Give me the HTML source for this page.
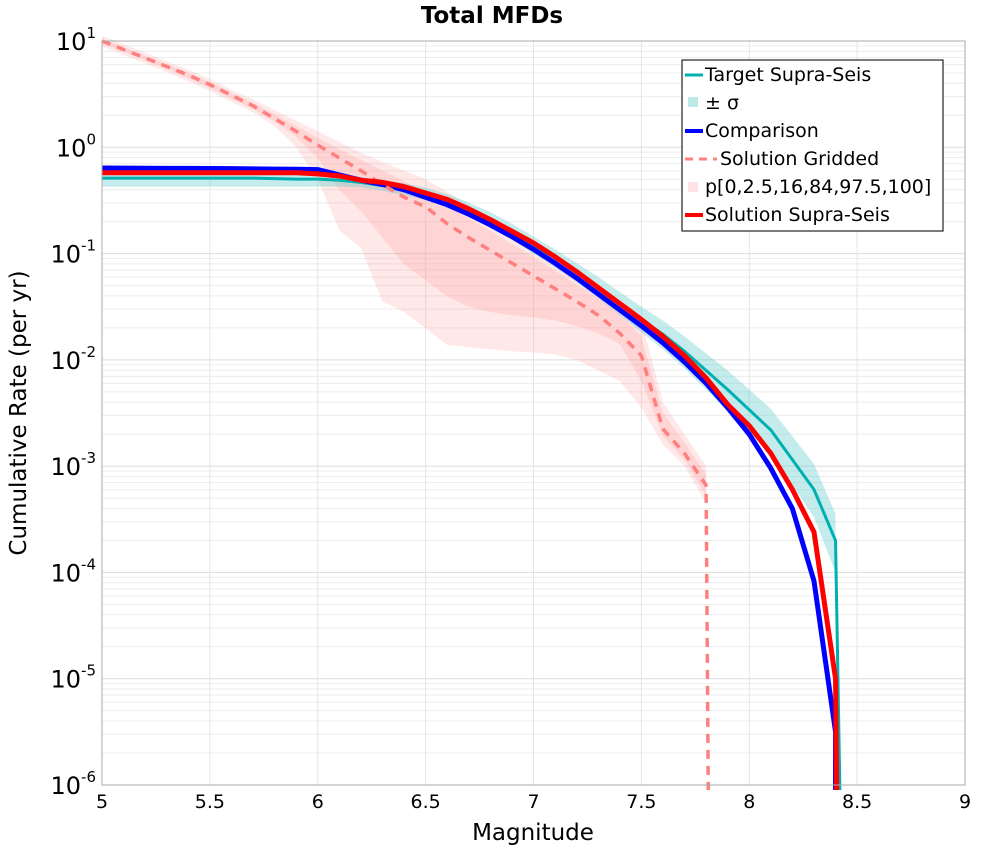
<!DOCTYPE html>
<html><head><meta charset="utf-8"><style>
body{margin:0;background:#fff;font-family:"Liberation Sans","DejaVu Sans",sans-serif}
svg text{font-family:"DejaVu Sans","Liberation Sans",sans-serif}
</style></head><body>
<svg id="chart" width="1000" height="850" xmlns="http://www.w3.org/2000/svg">
<text x="492" y="23" text-anchor="middle" font-size="23" font-weight="bold">Total MFDs</text>
<g id="grid"></g><g id="series"></g><g id="axes"></g>
<text x="533" y="840" text-anchor="middle" font-size="23">Magnitude</text>
<text transform="translate(26,413) rotate(-90)" text-anchor="middle" font-size="23">Cumulative Rate (per yr)</text>
<g>
<rect x="682" y="60" width="261" height="171" fill="#fff" stroke="#222" stroke-width="1.2"/>
<line x1="685" y1="75" x2="703" y2="75" stroke="#00b0b0" stroke-width="3"/><text x="705" y="81" font-size="19">Target Supra-Seis</text>
<rect x="688" y="97" width="10" height="10" fill="#bfe9e9"/><text x="705" y="109" font-size="19">± σ</text>
<line x1="685" y1="131" x2="703" y2="131" stroke="#0000ff" stroke-width="4"/><text x="705" y="137" font-size="19">Comparison</text>
<line x1="685" y1="159" x2="717" y2="159" stroke="#ff8080" stroke-width="3" stroke-dasharray="8,6"/><text x="720" y="165" font-size="19">Solution Gridded</text>
<rect x="688" y="182" width="10" height="10" fill="#fde3e3"/><text x="705" y="193" font-size="19">p[0,2.5,16,84,97.5,100]</text>
<line x1="685" y1="215" x2="703" y2="215" stroke="#ff0000" stroke-width="4"/><text x="705" y="221" font-size="19">Solution Supra-Seis</text>
</g>
</svg>
<script>
const mags=[5.0,5.1,5.2,5.3,5.4,5.5,5.6,5.7,5.8,5.9,6.0,6.1,6.2,6.3,6.4,6.5,6.6,6.7,6.8,6.9,7.0,7.1,7.2,7.3,7.4,7.5,7.6,7.7,7.8,7.9,8.0,8.1,8.2,8.3,8.4];
const redLog=[-0.24,-0.24,-0.24,-0.24,-0.24,-0.24,-0.24,-0.24,-0.24,-0.24,-0.25,-0.27,-0.31,-0.33,-0.37,-0.43,-0.49,-0.58,-0.68,-0.79,-0.90,-1.03,-1.17,-1.32,-1.47,-1.62,-1.78,-1.96,-2.17,-2.42,-2.62,-2.88,-3.22,-3.62,-5.0];
const blueLog=[-0.195,-0.196,-0.197,-0.198,-0.199,-0.2,-0.201,-0.203,-0.205,-0.207,-0.21,-0.26,-0.31,-0.35,-0.40,-0.47,-0.54,-0.63,-0.73,-0.84,-0.96,-1.09,-1.23,-1.38,-1.53,-1.68,-1.84,-2.02,-2.22,-2.45,-2.70,-3.02,-3.40,-4.08,-5.5];
const targetLog=[-0.29,-0.29,-0.29,-0.29,-0.29,-0.29,-0.29,-0.29,-0.295,-0.3,-0.3,-0.31,-0.33,-0.36,-0.39,-0.44,-0.5,-0.58,-0.68,-0.79,-0.92,-1.04,-1.18,-1.32,-1.47,-1.62,-1.76,-1.92,-2.10,-2.28,-2.47,-2.66,-2.94,-3.22,-3.70];
const targetHi=[-0.22,-0.22,-0.22,-0.22,-0.22,-0.22,-0.22,-0.22,-0.225,-0.23,-0.23,-0.25,-0.28,-0.31,-0.34,-0.38,-0.44,-0.52,-0.61,-0.72,-0.84,-0.96,-1.09,-1.22,-1.36,-1.50,-1.63,-1.78,-1.94,-2.10,-2.28,-2.46,-2.72,-2.98,-3.45];
const targetLo=[-0.37,-0.37,-0.37,-0.37,-0.37,-0.37,-0.37,-0.37,-0.37,-0.37,-0.37,-0.37,-0.38,-0.41,-0.45,-0.50,-0.57,-0.65,-0.76,-0.87,-1.00,-1.13,-1.27,-1.42,-1.58,-1.74,-1.90,-2.08,-2.28,-2.48,-2.68,-2.90,-3.18,-3.48,-4.0];
const gridMags=[5.0,5.1,5.2,5.3,5.4,5.5,5.6,5.7,5.8,5.9,6.0,6.1,6.2,6.3,6.4,6.5,6.6,6.7,6.8,6.9,7.0,7.1,7.2,7.3,7.4,7.5,7.6,7.7,7.8];
const griddedLog=[1.0,0.92,0.84,0.76,0.68,0.59,0.49,0.39,0.27,0.15,0.02,-0.1,-0.22,-0.35,-0.47,-0.56,-0.72,-0.85,-0.97,-1.09,-1.21,-1.33,-1.45,-1.58,-1.75,-1.96,-2.65,-2.88,-3.18];
const outerHi=[1.05,0.97,0.89,0.81,0.73,0.64,0.54,0.45,0.35,0.25,0.15,0.05,-0.05,-0.14,-0.22,-0.30,-0.42,-0.54,-0.66,-0.78,-0.90,-1.03,-1.16,-1.30,-1.45,-1.62,-2.40,-2.70,-3.0];
const outerLo=[0.95,0.87,0.79,0.71,0.62,0.53,0.43,0.33,0.2,0.0,-0.3,-0.78,-0.95,-1.45,-1.55,-1.7,-1.86,-1.88,-1.9,-1.92,-1.93,-1.95,-2.0,-2.1,-2.2,-2.45,-2.8,-3.0,-3.35];
const innerHi=[1.02,0.94,0.86,0.78,0.7,0.61,0.51,0.42,0.31,0.2,0.09,-0.02,-0.12,-0.22,-0.32,-0.42,-0.55,-0.67,-0.79,-0.91,-1.03,-1.16,-1.29,-1.42,-1.57,-1.78,-2.5,-2.78,-3.08];
const innerLo=[0.98,0.9,0.82,0.74,0.65,0.56,0.46,0.36,0.24,0.1,-0.1,-0.4,-0.6,-0.85,-1.1,-1.25,-1.4,-1.5,-1.55,-1.58,-1.6,-1.63,-1.68,-1.75,-1.85,-2.2,-2.72,-2.94,-3.28];
const xTicks=[5,5.5,6,6.5,7,7.5,8,8.5,9];
const yDecades=[1,0,-1,-2,-3,-4,-5,-6];

const X0=102,X1=965,Y0=41,Y1=785;
const xs=m=>X0+(m-5)/4*(X1-X0);
const ys=l=>Y0+(1-Math.max(-6.2,l))/7*(Y1-Y0);
const NS="http://www.w3.org/2000/svg";
function mk(parent,tag,attrs){const e=document.createElementNS(NS,tag);for(const k in attrs)e.setAttribute(k,attrs[k]);document.getElementById(parent).appendChild(e);return e;}
for(let d=1;d>-6;d--){for(let k=1;k<=9;k++){const l=d-1+Math.log10(k);const y=ys(l);
const g=mk('grid','line',{x1:X0,x2:X1,y1:y,y2:y,stroke:k==1?'#dcdcdc':'#ececec','stroke-width':1});

}}
xTicks.forEach(t=>{const x=xs(t);const g=mk('grid','line',{x1:x,x2:x,y1:Y0,y2:Y1,stroke:'#e4e4e4','stroke-width':1});

});
const fr=mk('axes','rect',{x:X0,y:Y0,width:X1-X0,height:Y1-Y0,fill:'none',stroke:'#aaa','stroke-width':1});


xTicks.forEach(t=>{const tx=mk('axes','text',{x:xs(t),y:808,'text-anchor':'middle','font-size':19});tx.textContent=String(t);

});
yDecades.forEach(d=>{const y=ys(d);const tx=mk('axes','text',{x:96,y:y+9,'text-anchor':'end','font-size':24});


tx.innerHTML='10<tspan dy="-12" font-size="15">'+d+'</tspan>';});
function band(ms,hi,lo,fill,name){let p='M';ms.forEach((m,i)=>p+=xs(m)+','+ys(hi[i])+' L');for(let i=ms.length-1;i>=0;i--)p+=xs(ms[i])+','+ys(lo[i])+(i?' L':'');
const e=mk('series','path',{d:p+'Z',fill:fill,stroke:'none'});

}
function line(ms,vals,col,w,name,dash,endX){let p='M'+ms.map((m,i)=>xs(m)+','+ys(vals[i])).join(' L');if(endX)p+=' L'+xs(endX)+','+(Y1+5);
const e=mk('series','path',{d:p,fill:'none',stroke:col,'stroke-width':w,'stroke-linejoin':'round'});if(dash)e.setAttribute('stroke-dasharray',dash);

}
band(gridMags,outerHi,outerLo,'rgba(255,150,150,0.22)','gridded-outer-band');
band(gridMags,innerHi,innerLo,'rgba(255,150,150,0.25)','gridded-inner-band');
band(mags,targetHi,targetLo,'rgba(100,205,205,0.38)','target-sigma-band');
line(mags,targetLog,'#00b0b0',3,'target-supra-seis-line',null,8.42);
line(mags,blueLog,'#0000ff',5,'comparison-line',null,8.4);
line(gridMags,griddedLog,'#ff7f7f',3.5,'solution-gridded-line','9,7',7.81);
line(mags,redLog,'#ff0000',5,'solution-supra-seis-line',null,8.405);
</script>
</body></html>
